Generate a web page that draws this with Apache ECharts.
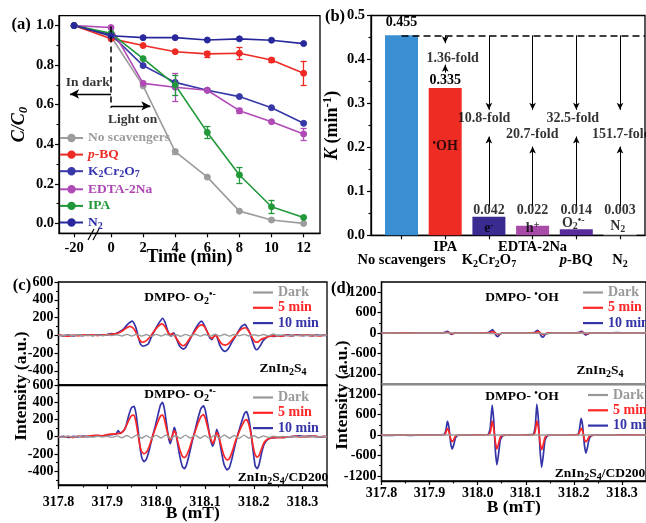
<!DOCTYPE html>
<html><head><meta charset="utf-8">
<script src="https://cdn.jsdelivr.net/npm/echarts@6/dist/echarts.min.js"></script>
<style>html,body{margin:0;padding:0;background:#fff}#c{width:646px;height:523px}</style>
</head><body><div id="c"></div>
<script>
// ---------------- DATA ----------------
// Panel (a): C/C0 vs time
const timeMin = [-20, 0, 2, 4, 6, 8, 10, 12];
const aNoScav = [1.0, 0.945, 0.695, 0.363, 0.234, 0.062, 0.017, 0.0];
const aPBQ    = [1.0, 0.934, 0.899, 0.868, 0.857, 0.860, 0.826, 0.759];
const aK2Cr   = [1.0, 0.955, 0.798, 0.713, 0.673, 0.641, 0.585, 0.506];
const aEDTA   = [1.0, 0.990, 0.708, 0.688, 0.673, 0.570, 0.514, 0.452];
const aIPA    = [1.0, 0.961, 0.833, 0.700, 0.460, 0.245, 0.084, 0.030];
const aN2     = [1.0, 0.949, 0.939, 0.939, 0.927, 0.933, 0.926, 0.909];
const aErrNoScav = [0, 0, 0, 0.012, 0, 0, 0, 0];
const aErrPBQ    = [0, 0, 0, 0, 0.015, 0.030, 0.010, 0.063];
const aErrK2Cr   = [0, 0, 0, 0, 0, 0, 0, 0];
const aErrEDTA   = [0, 0, 0, 0.070, 0, 0.012, 0, 0.030];
const aErrIPA    = [0, 0, 0, 0.050, 0.030, 0.040, 0.035, 0];
const aErrN2     = [0, 0, 0, 0, 0, 0, 0, 0];
const aXTicks = [-20, 0, 2, 4, 6, 8, 10, 12];
const aYTicks = [0, 0.2, 0.4, 0.6, 0.8, 1.0];
const aYMinor = [0.1, 0.3, 0.5, 0.7, 0.9];

// Panel (b): rate constants
const bCategories = ['No scavengers', 'IPA', 'K2Cr2O7', 'EDTA-2Na', 'p-BQ', 'N2'];
const bK = [0.455, 0.335, 0.042, 0.022, 0.014, 0.003];
const bFold = ['', '1.36', '10.8', '20.7', '32.5', '151.7'];
const bSpecies = ['', 'OH', 'e', 'h', 'O2', 'N2'];

// Panel (c): DMPO-O2- EPR, [B (mT), intensity]
const cTopDark = [[317.80,0],[317.81,-5],[317.82,4],[317.83,-3],[317.84,5],[317.85,-4],[317.86,3],[317.87,-5],[317.88,4],[317.89,-6],[317.90,5],[317.91,-4],[317.92,6],[317.93,-8],[317.94,10],[317.95,-8],[317.96,12],[317.97,-10],[317.98,8],[317.99,-12],[318.00,10],[318.01,-8],[318.02,12],[318.03,-10],[318.04,8],[318.05,-12],[318.06,10],[318.07,-8],[318.08,12],[318.09,-10],[318.10,8],[318.11,-12],[318.12,10],[318.13,-8],[318.14,12],[318.15,-10],[318.16,8],[318.17,-6],[318.18,10],[318.19,-8],[318.20,6],[318.21,-5],[318.22,8],[318.23,-4],[318.24,15],[318.25,-6],[318.26,4],[318.27,-5],[318.28,3],[318.29,-4],[318.30,5],[318.31,-3],[318.32,4],[318.33,-5],[318.34,3],[318.35,0]];
const cTop5 = [[317.800,5],[317.810,-4],[317.820,-10],[317.830,2],[317.840,-6],[317.850,4],[317.860,-2],[317.870,6],[317.880,-4],[317.890,3],[317.900,5],[317.910,12],[317.920,20],[317.930,45],[317.938,80],[317.946,100],[317.952,85],[317.958,40],[317.963,-20],[317.968,-65],[317.973,-78],[317.980,-60],[317.987,-20],[317.995,40],[318.003,95],[318.012,128],[318.018,100],[318.023,45],[318.028,5],[318.033,20],[318.037,5],[318.042,-40],[318.049,-95],[318.055,-118],[318.061,-100],[318.067,-50],[318.074,0],[318.081,60],[318.088,105],[318.094,118],[318.099,95],[318.104,45],[318.110,-15],[318.115,-35],[318.119,-10],[318.123,0],[318.128,-45],[318.134,-95],[318.141,-110],[318.148,-95],[318.155,-55],[318.162,-10],[318.170,45],[318.177,75],[318.183,85],[318.188,60],[318.193,15],[318.198,-40],[318.203,-75],[318.208,-78],[318.214,-50],[318.220,-35],[318.228,-20],[318.235,-10],[318.245,-5],[318.255,-12],[318.265,2],[318.275,-6],[318.285,4],[318.295,-3],[318.305,6],[318.315,-4],[318.325,0],[318.335,-8],[318.345,3],[318.350,0]];
const cTop10 = [[317.800,2],[317.810,-6],[317.820,4],[317.830,-8],[317.840,3],[317.850,-4],[317.860,6],[317.870,-3],[317.880,5],[317.890,2],[317.900,8],[317.908,20],[317.915,15],[317.925,40],[317.933,70],[317.942,125],[317.951,160],[317.956,120],[317.960,60],[317.964,-30],[317.968,-100],[317.972,-122],[317.978,-115],[317.984,-95],[317.991,-10],[317.998,65],[318.006,140],[318.013,192],[318.018,150],[318.022,80],[318.027,5],[318.031,-10],[318.035,28],[318.038,10],[318.042,-45],[318.048,-120],[318.055,-155],[318.060,-140],[318.066,-80],[318.073,-5],[318.080,70],[318.087,130],[318.093,160],[318.098,120],[318.103,60],[318.109,-20],[318.114,-50],[318.118,-15],[318.122,10],[318.126,-40],[318.131,-120],[318.137,-170],[318.142,-182],[318.148,-150],[318.155,-80],[318.161,-25],[318.168,40],[318.175,100],[318.182,122],[318.187,80],[318.192,25],[318.198,-80],[318.203,-150],[318.207,-163],[318.213,-120],[318.219,-62],[318.226,-25],[318.233,-8],[318.240,-12],[318.250,0],[318.260,-6],[318.270,4],[318.280,-5],[318.290,6],[318.300,-3],[318.310,2],[318.320,-6],[318.330,3],[318.340,-2],[318.350,0]];
const cBotDark = [[317.80,0],[317.81,-6],[317.82,5],[317.83,-4],[317.84,6],[317.85,-5],[317.86,4],[317.87,-6],[317.88,5],[317.89,-4],[317.90,6],[317.91,-8],[317.92,10],[317.93,-12],[317.94,15],[317.95,-15],[317.96,20],[317.97,-18],[317.98,15],[317.99,-20],[318.00,18],[318.01,-15],[318.02,20],[318.03,-18],[318.04,15],[318.05,-20],[318.06,18],[318.07,-15],[318.08,20],[318.09,-18],[318.10,15],[318.11,-20],[318.12,18],[318.13,-15],[318.14,20],[318.15,-18],[318.16,15],[318.17,-20],[318.18,18],[318.19,-15],[318.20,12],[318.21,-15],[318.22,10],[318.23,-8],[318.24,6],[318.25,-5],[318.26,4],[318.27,-6],[318.28,5],[318.29,-4],[318.30,6],[318.31,-3],[318.32,4],[318.33,-5],[318.34,3],[318.35,0]];
const cBot5 = [[317.800,0],[317.810,-6],[317.820,5],[317.830,-10],[317.840,8],[317.850,-3],[317.860,6],[317.870,12],[317.880,15],[317.890,10],[317.900,25],[317.910,30],[317.920,35],[317.928,40],[317.936,90],[317.943,180],[317.949,240],[317.954,250],[317.958,190],[317.962,60],[317.966,-80],[317.970,-170],[317.975,-198],[317.980,-180],[317.986,-110],[317.992,-10],[317.998,90],[318.004,180],[318.009,240],[318.013,250],[318.017,200],[318.021,100],[318.025,10],[318.029,-40],[318.033,10],[318.037,70],[318.040,40],[318.044,-50],[318.049,-160],[318.054,-230],[318.058,-242],[318.062,-220],[318.068,-140],[318.074,-30],[318.080,60],[318.086,160],[318.092,235],[318.097,258],[318.101,210],[318.106,100],[318.111,-10],[318.116,-80],[318.120,-30],[318.124,50],[318.128,10],[318.133,-100],[318.139,-220],[318.145,-270],[318.150,-255],[318.156,-170],[318.162,-60],[318.168,30],[318.175,120],[318.181,185],[318.185,200],[318.189,160],[318.194,40],[318.199,-120],[318.203,-210],[318.207,-238],[318.211,-215],[318.216,-140],[318.221,-70],[318.228,-30],[318.235,-15],[318.245,-8],[318.255,-12],[318.265,-5],[318.275,0],[318.285,6],[318.295,-2],[318.305,4],[318.315,0],[318.325,8],[318.335,-2],[318.345,3],[318.350,0]];
const cBot10 = [[317.800,-5],[317.810,3],[317.820,-8],[317.830,5],[317.840,-3],[317.850,8],[317.860,0],[317.870,10],[317.880,12],[317.890,8],[317.900,20],[317.910,25],[317.918,30],[317.922,70],[317.926,45],[317.932,60],[317.938,120],[317.944,250],[317.950,340],[317.955,352],[317.959,260],[317.963,80],[317.967,-120],[317.971,-250],[317.975,-290],[317.980,-260],[317.986,-150],[317.992,-10],[317.998,120],[318.004,260],[318.009,370],[318.013,398],[318.017,320],[318.021,160],[318.025,0],[318.029,-80],[318.033,0],[318.037,110],[318.040,60],[318.044,-80],[318.049,-240],[318.054,-350],[318.058,-370],[318.062,-330],[318.068,-200],[318.074,-50],[318.080,80],[318.086,220],[318.092,330],[318.097,358],[318.101,300],[318.106,140],[318.111,-30],[318.116,-110],[318.120,-40],[318.124,85],[318.128,20],[318.133,-150],[318.139,-320],[318.145,-385],[318.150,-360],[318.156,-240],[318.162,-90],[318.168,40],[318.175,170],[318.181,270],[318.185,290],[318.189,230],[318.194,60],[318.199,-180],[318.203,-340],[318.207,-370],[318.211,-320],[318.216,-190],[318.221,-90],[318.228,-35],[318.235,-15],[318.245,-10],[318.255,-5],[318.265,-8],[318.275,0],[318.285,5],[318.295,10],[318.305,0],[318.315,8],[318.325,5],[318.335,-3],[318.345,2],[318.350,0]];

// Panel (d): DMPO-OH EPR
const dTopDark = [[317.80,0],[317.85,-3],[317.90,2],[317.95,-2],[318.00,3],[318.03,-15],[318.045,-20],[318.06,0],[318.10,2],[318.13,-15],[318.145,-20],[318.16,0],[318.20,2],[318.25,-2],[318.30,3],[318.35,0]];
const dTop5 = [[317.80,5],[317.82,-3],[317.84,6],[317.86,-2],[317.88,4],[317.90,-5],[317.92,3],[317.932,5],[317.936,20],[317.939,22],[317.943,-5],[317.947,-20],[317.952,-5],[317.97,3],[317.99,-4],[318.01,5],[318.025,8],[318.030,35],[318.033,40],[318.037,0],[318.041,-40],[318.045,-35],[318.050,-5],[318.07,4],[318.09,-3],[318.11,6],[318.120,8],[318.124,35],[318.127,38],[318.131,-10],[318.135,-45],[318.139,-30],[318.145,0],[318.17,4],[318.19,-3],[318.21,5],[318.215,18],[318.219,20],[318.223,-10],[318.227,-25],[318.232,-5],[318.25,3],[318.27,-4],[318.29,5],[318.31,-2],[318.33,4],[318.35,0]];
const dTop10 = [[317.80,0],[317.82,5],[317.84,-5],[317.86,8],[317.88,-3],[317.90,5],[317.92,-4],[317.930,10],[317.935,45],[317.938,50],[317.942,-10],[317.946,-40],[317.950,-15],[317.956,0],[317.97,-5],[317.99,5],[318.01,0],[318.022,15],[318.028,70],[318.031,100],[318.035,20],[318.039,-90],[318.042,-105],[318.046,-40],[318.052,0],[318.07,5],[318.09,-5],[318.11,5],[318.118,10],[318.122,60],[318.125,80],[318.129,0],[318.133,-110],[318.136,-120],[318.140,-50],[318.146,-5],[318.16,5],[318.18,-3],[318.20,5],[318.210,10],[318.214,40],[318.217,45],[318.221,-20],[318.225,-60],[318.229,-30],[318.235,0],[318.25,5],[318.27,-3],[318.29,10],[318.31,0],[318.33,5],[318.35,0]];
const dBotDark = [[317.80,0],[317.85,2],[317.90,-2],[317.95,2],[318.00,-2],[318.05,2],[318.10,-2],[318.15,2],[318.20,-2],[318.25,2],[318.30,-2],[318.35,0]];
const dBot5 = [[317.80,5],[317.82,-5],[317.84,8],[317.86,-3],[317.88,5],[317.90,-6],[317.92,4],[317.931,10],[317.934,80],[317.937,200],[317.940,120],[317.942,0],[317.944,-120],[317.947,-195],[317.950,-140],[317.954,-30],[317.958,-5],[317.97,6],[317.99,-4],[318.01,5],[318.023,15],[318.027,120],[318.030,410],[318.033,230],[318.035,0],[318.037,-230],[318.040,-410],[318.043,-280],[318.047,-60],[318.052,-10],[318.07,4],[318.09,-5],[318.11,6],[318.117,15],[318.120,140],[318.123,420],[318.126,240],[318.128,0],[318.130,-240],[318.133,-430],[318.136,-300],[318.140,-70],[318.145,-10],[318.16,4],[318.18,-6],[318.20,5],[318.209,10],[318.212,90],[318.215,200],[318.218,130],[318.220,0],[318.222,-130],[318.225,-200],[318.228,-150],[318.232,-40],[318.237,-8],[318.25,6],[318.27,-4],[318.29,5],[318.31,-2],[318.33,4],[318.35,0]];
const dBot10 = [[317.80,0],[317.82,-10],[317.84,5],[317.86,-8],[317.88,6],[317.90,-4],[317.92,8],[317.930,15],[317.934,150],[317.937,400],[317.940,250],[317.942,0],[317.944,-250],[317.947,-410],[317.950,-300],[317.954,-80],[317.958,-10],[317.97,5],[317.99,-5],[318.01,8],[318.022,20],[318.026,200],[318.030,878],[318.033,500],[318.035,0],[318.037,-500],[318.040,-878],[318.043,-600],[318.047,-150],[318.052,-20],[318.07,5],[318.09,-6],[318.11,10],[318.116,25],[318.120,300],[318.123,908],[318.126,500],[318.128,0],[318.130,-500],[318.133,-947],[318.136,-650],[318.140,-150],[318.145,-20],[318.16,5],[318.18,-5],[318.20,8],[318.209,20],[318.212,200],[318.215,488],[318.218,300],[318.220,0],[318.222,-300],[318.225,-527],[318.228,-380],[318.232,-100],[318.237,-15],[318.25,5],[318.27,-6],[318.29,8],[318.31,-3],[318.33,6],[318.35,0]];
const eprXTicks = [317.8, 317.9, 318.0, 318.1, 318.2, 318.3];
const eprXMinor = [317.85, 317.95, 318.05, 318.15, 318.25, 318.35];
const cYTicks = [-400, -200, 0, 200, 400, 600];
const cYMinor = [-500, -300, -100, 100, 300, 500];
const dYTicks = [-1200, -600, 0, 600, 1200];
const dYMinor = [-900, -300, 300, 900];

// ---------------- STYLE / LAYOUT ----------------
const F = 'Liberation Serif';
const BREAK_POS = -2.3;               // display position of t = -20 (axis break)
const tpos = t => (t < 0 ? BREAK_POS : t);
const CAP = 0.19;                     // half-width of error-bar caps (x units)

function rich(size, color, lh) {
  lh = lh || size + 4;
  const base = {fontFamily: F, fontWeight: 'bold', fontSize: size, color: color, lineHeight: lh};
  const small = {fontFamily: F, fontWeight: 'bold', fontSize: Math.round(size * 0.72), color: color};
  return {
    b: Object.assign({}, base),
    i: Object.assign({}, base, {fontStyle: 'italic'}),
    sub: Object.assign({}, small, {verticalAlign: 'bottom'}),
    isub: Object.assign({}, small, {verticalAlign: 'bottom', fontStyle: 'italic'}),
    sup: Object.assign({}, small, {verticalAlign: 'top'})
  };
}
function zrich(size, color) {
  const base = {fontFamily: F, fontWeight: 'bold', fontSize: size, fill: color, lineHeight: size + 4};
  const small = {fontFamily: F, fontWeight: 'bold', fontSize: Math.round(size * 0.72), fill: color};
  return {
    b: base,
    i: Object.assign({}, base, {fontStyle: 'italic'}),
    sub: Object.assign({}, small, {verticalAlign: 'bottom'}),
    sup: Object.assign({}, small, {verticalAlign: 'top'})
  };
}
const RICHLABEL = {
  'No scavengers': '{b|No scavengers}',
  'IPA': '{b|IPA}',
  'K2Cr2O7': '{b|K}{sub|2}{b|Cr}{sub|2}{b|O}{sub|7}',
  'EDTA-2Na': '{b|EDTA-2Na}',
  'p-BQ': '{i|p}{b|-BQ}',
  'N2': '{b|N}{sub|2}'
};
const SPECIES = {'': '', 'OH': '{sup|•}{b|OH}', 'e': '{b|e}{sup|-}', 'h': '{b|h}{sup|+}', 'O2': '{b|O}{sub|2}{sup|•-}', 'N2': '{b|N}{sub|2}'};

const BLACK = '#000';
const AXL = {show: true, onZero: false, lineStyle: {color: BLACK, width: 1.3}};
const LBL = {fontFamily: F, fontWeight: 'bold', fontSize: 14, color: BLACK};
const GRID = {show: true, borderColor: BLACK, borderWidth: 1.3, backgroundColor: 'rgba(0,0,0,0)'};

// ---- panel (a) series defs
const aDefs = [
  {name: 'No scavengers', v: aNoScav, e: aErrNoScav, color: '#9c9c9c', txt: '#9c9c9c'},
  {name: 'p-BQ', v: aPBQ, e: aErrPBQ, color: '#ee2a24', txt: '#ee2a24'},
  {name: 'K2Cr2O7', v: aK2Cr, e: aErrK2Cr, color: '#3838a8', txt: '#3636ae'},
  {name: 'EDTA-2Na', v: aEDTA, e: aErrEDTA, color: '#b04ab6', txt: '#ae46b4'},
  {name: 'IPA', v: aIPA, e: aErrIPA, color: '#21983a', txt: '#24983a'},
  {name: 'N2', v: aN2, e: aErrN2, color: '#28289c', txt: '#2c2caa'}
];

const series = [];
aDefs.forEach(function (d) {
  // error bars as mark lines (vertical bar + two caps) from the value/error arrays
  const eb = [];
  timeMin.forEach((t, i) => {
    if (d.e[i] > 0) {
      const x = tpos(t), lo = d.v[i] - d.e[i], hi = d.v[i] + d.e[i];
      eb.push([{coord: [x, lo]}, {coord: [x, hi]}]);
      eb.push([{coord: [x - CAP, lo]}, {coord: [x + CAP, lo]}]);
      eb.push([{coord: [x - CAP, hi]}, {coord: [x + CAP, hi]}]);
    }
  });
  series.push({
    type: 'line', name: d.name, xAxisIndex: 0, yAxisIndex: 0,
    data: timeMin.map((t, i) => [tpos(t), d.v[i]]),
    symbol: 'circle', symbolSize: 6,
    lineStyle: {width: 1.6, color: d.color},
    itemStyle: {color: d.color, borderColor: d.color, borderWidth: 1},
    z: 3,
    markLine: eb.length ? {silent: true, animation: false, symbol: 'none', label: {show: false},
      lineStyle: {color: d.color, width: 1.3, type: 'solid'}, data: eb} : undefined
  });
});
// dashed "light on" line and arrows in (a)
series.push({
  type: 'line', name: '_annA', xAxisIndex: 0, yAxisIndex: 0, data: [], silent: true,
  markLine: {
    silent: true, animation: false, label: {show: false}, symbolSize: [7, 9],
    lineStyle: {color: BLACK, width: 1.4, type: 'solid'},
    data: [
      [{coord: [0, 0.995], symbol: 'none', lineStyle: {type: [6, 4], width: 1.5, color: BLACK}}, {coord: [0, 0.585], symbol: 'none'}],
      [{coord: [0, 0.654], symbol: 'none'}, {coord: [-2.55, 0.654], symbol: 'arrow'}],
      [{coord: [0, 0.594], symbol: 'none'}, {coord: [2.45, 0.594], symbol: 'arrow'}]
    ]
  }
});
series.push({
  type: 'scatter', name: '_txtA', xAxisIndex: 0, yAxisIndex: 0, symbolSize: 1, silent: true,
  itemStyle: {color: 'rgba(0,0,0,0)'},
  label: {show: true, position: 'inside', fontFamily: F, fontWeight: 'bold', fontSize: 13.5, color: BLACK},
  data: [
    {value: [-1.45, 0.71], label: {formatter: 'In dark'}},
    {value: [1.35, 0.527], label: {formatter: 'Light on'}}
  ]
});

// ---- panel (b)
const BAR_COLORS = ['#3a8fd3', '#ee2c24', '#3a2b90', '#a84ba8', '#5a2c9b', '#cfcfcf'];
const dashEnd = 6.572;
const ml = [[{coord: [1, bK[0]], symbol: 'none', lineStyle: {type: [7, 4], width: 1.5, color: BLACK}}, {coord: [dashEnd, bK[0]], symbol: 'none'}]];
// IPA arrows
ml.push([{coord: [2, bK[0]], symbol: 'none'}, {coord: [2, 0.437], symbol: 'arrow'}]);
ml.push([{coord: [2, 0.370], symbol: 'none'}, {coord: [2, 0.388], symbol: 'arrow'}]);
const upEnd = [0, 0, 0.2246, 0.2018, 0.2246, 0.2018];
for (let i = 2; i < 6; i++) {
  ml.push([{coord: [i + 1, bK[0]], symbol: 'none'}, {coord: [i + 1, 0.2854], symbol: 'arrow'}]);
  ml.push([{coord: [i + 1, 0.0667], symbol: 'none'}, {coord: [i + 1, upEnd[i]], symbol: 'arrow'}]);
}
series.push({
  type: 'bar', name: 'K', xAxisIndex: 1, yAxisIndex: 1, barWidth: 33,
  data: bK.map((v, i) => ({
    value: [i + 1, v], itemStyle: {color: BAR_COLORS[i]},
    label: {show: v >= 0.1, position: 'top', distance: i === 0 ? 6 : 1, formatter: v.toFixed(3),
      fontFamily: F, fontWeight: 'bold', fontSize: 14, color: BLACK}
  })),
  markLine: {silent: true, animation: false, label: {show: false}, symbolSize: [5, 7],
    lineStyle: {color: BLACK, width: 1, type: 'solid'}, data: ml},
  z: 2
});
const smallLabelY = 0.0576;
const foldPos = [null, [2.17, 0.402], [2.89, 0.2665], [3.99, 0.2285], [4.92, 0.2665], [6.04, 0.2285]];
const speciesPos = [null, [2, 0.202], [3, 0.016], [4, 0.016], [4.93, 0.027], [5.95, 0.02]];
const bTxt = [];
bK.forEach((v, i) => {
  if (v < 0.1) bTxt.push({value: [i + 1, smallLabelY], label: {formatter: '{b|' + v.toFixed(3) + '}'}});
  if (bFold[i]) bTxt.push({value: foldPos[i], label: {formatter: '{b|' + bFold[i] + '-fold}'}});
  if (bSpecies[i]) bTxt.push({value: speciesPos[i], label: {formatter: SPECIES[bSpecies[i]]}});
});
series.push({
  type: 'scatter', name: '_txtB', xAxisIndex: 1, yAxisIndex: 1, symbolSize: 1, silent: true,
  itemStyle: {color: 'rgba(0,0,0,0)'}, z: 5,
  label: {show: true, position: 'inside', rich: rich(14, BLACK, 16)},
  data: bTxt
});

// ---- panels (c),(d)
const EPR_COL = {'Dark': '#999999', '5 min': '#ff2626', '10 min': '#3434a8'};
function epr(name, data, xi, yi) {
  return {type: 'line', name: name, xAxisIndex: xi, yAxisIndex: yi, data: data, symbol: 'none',
    smooth: 0.15, lineStyle: {width: name === 'Dark' ? 1.4 : 1.7, color: EPR_COL[name]},
    itemStyle: {color: EPR_COL[name]}, silent: true, z: 2};
}
series.push(epr('10 min', cTop10, 2, 2), epr('5 min', cTop5, 2, 2), epr('Dark', cTopDark, 2, 2));
series.push(epr('10 min', cBot10, 3, 3), epr('5 min', cBot5, 3, 3), epr('Dark', cBotDark, 3, 3));
series.push(epr('10 min', dTop10, 4, 4), epr('5 min', dTop5, 4, 4), epr('Dark', dTopDark, 4, 4));
series.push(epr('10 min', dBot10, 5, 5), epr('5 min', dBot5, 5, 5), epr('Dark', dBotDark, 5, 5));

// ---------------- AXES ----------------
function minorAxis(kind, grid, min, max, vals, pos) {
  return {type: 'value', gridIndex: grid, min: min, max: max, position: pos,
    axisLine: {show: false, onZero: false}, axisLabel: {show: false}, splitLine: {show: false},
    axisTick: {show: true, length: 2.5, customValues: vals, lineStyle: {color: BLACK, width: 1.1}}};
}
const aXPos = aXTicks.map(tpos);
const NAMEFONT = {fontFamily: F, fontWeight: 'bold', fontSize: 18, color: BLACK};
const bLabelFmt = v => RICHLABEL[bCategories[Math.round(v) - 1]];
const bUpper = [2, 4], bLower = [1, 3, 5, 6];
const xAxis = [
  {type: 'value', gridIndex: 0, min: -3.24, max: 13.02, axisLine: AXL, splitLine: {show: false},
    axisTick: {show: true, length: 4, customValues: aXPos, lineStyle: {color: BLACK, width: 1.2}},
    axisLabel: Object.assign({}, LBL, {fontSize: 14.5, margin: 7, customValues: aXPos,
      showMinLabel: true, showMaxLabel: true,
      formatter: v => { const k = aXPos.indexOf(v); return k >= 0 ? String(aXTicks[k]) : ''; }}),
    name: 'Time (min)', nameLocation: 'middle', nameGap: 15, nameMoveOverlap: false,
    nameTextStyle: NAMEFONT},
  {type: 'value', gridIndex: 1, min: 0.302, max: 6.572, axisLine: AXL, splitLine: {show: false},
    axisTick: {show: true, length: 4, customValues: [1, 2, 3, 4, 5, 6], lineStyle: {color: BLACK, width: 1.2}},
    axisLabel: {customValues: bUpper, margin: 3, fontSize: 14.5, showMinLabel: true, showMaxLabel: true,
      fontFamily: F, fontWeight: 'bold', color: BLACK, rich: rich(14.5, BLACK, 18), formatter: bLabelFmt}},
  {type: 'value', gridIndex: 2, min: 317.8, max: 318.35, axisLine: AXL, splitLine: {show: false},
    axisTick: {show: false}, axisLabel: {show: false}},
  {type: 'value', gridIndex: 3, min: 317.8, max: 318.35, axisLine: AXL, splitLine: {show: false},
    axisTick: {show: true, length: 4, customValues: eprXTicks, lineStyle: {color: BLACK, width: 1.2}},
    axisLabel: Object.assign({}, LBL, {customValues: eprXTicks, margin: 10, showMinLabel: true, formatter: v => v.toFixed(1)}),
    name: 'B (mT)', nameLocation: 'middle', nameGap: 19, nameMoveOverlap: false,
    nameTextStyle: Object.assign({}, NAMEFONT, {fontSize: 17.5})},
  {type: 'value', gridIndex: 4, min: 317.8, max: 318.35, axisLine: AXL, splitLine: {show: false},
    axisTick: {show: false}, axisLabel: {show: false}},
  {type: 'value', gridIndex: 5, min: 317.8, max: 318.35, axisLine: AXL, splitLine: {show: false},
    axisTick: {show: true, length: 4, customValues: eprXTicks, lineStyle: {color: BLACK, width: 1.2}},
    axisLabel: Object.assign({}, LBL, {customValues: eprXTicks, margin: 5, showMinLabel: true, formatter: v => v.toFixed(1)}),
    name: 'B (mT)', nameLocation: 'middle', nameGap: 17, nameMoveOverlap: false,
    nameTextStyle: Object.assign({}, NAMEFONT, {fontSize: 17.5})},
  minorAxis('x', 3, 317.8, 318.35, eprXMinor, 'bottom'),
  minorAxis('x', 5, 317.8, 318.35, eprXMinor, 'bottom'),
  // lower row of category labels for (b)
  {type: 'value', gridIndex: 1, min: 0.302, max: 6.572, position: 'bottom',
    axisLine: {show: false, onZero: false}, axisTick: {show: false}, splitLine: {show: false},
    axisLabel: {customValues: bLower, margin: 16, fontSize: 14.5, showMinLabel: true, showMaxLabel: true,
      fontFamily: F, fontWeight: 'bold', color: BLACK, rich: rich(14.5, BLACK, 18), formatter: bLabelFmt}}
];
function eprY(grid, min, max, ticks) {
  return {type: 'value', gridIndex: grid, min: min, max: max, axisLine: AXL, splitLine: {show: false},
    axisTick: {show: true, length: 4, customValues: ticks, lineStyle: {color: BLACK, width: 1.2}},
    axisLabel: Object.assign({}, LBL, {customValues: ticks, margin: 5, showMinLabel: true, showMaxLabel: true, formatter: v => String(v)})};
}
const yAxis = [
  {type: 'value', gridIndex: 0, min: -0.05, max: 1.05, axisLine: AXL, splitLine: {show: false},
    axisTick: {show: true, length: 4, customValues: aYTicks, lineStyle: {color: BLACK, width: 1.2}},
    axisLabel: Object.assign({}, LBL, {fontSize: 14.5, margin: 5, customValues: aYTicks, formatter: v => v.toFixed(1)}),
    name: '{i|C/C}{isub|0}', nameLocation: 'middle', nameGap: 29, nameMoveOverlap: false,
    nameTextStyle: {rich: rich(18, BLACK, 22)}},
  {type: 'value', gridIndex: 1, min: 0, max: 0.5, interval: 0.1, axisLine: AXL, splitLine: {show: false},
    axisTick: {show: true, length: 4, lineStyle: {color: BLACK, width: 1.2}},
    minorTick: {show: true, splitNumber: 2, length: 2.5, lineStyle: {color: BLACK, width: 1.1}},
    axisLabel: Object.assign({}, LBL, {fontSize: 14.5, margin: 6, formatter: v => v.toFixed(1)}),
    name: '{i|K}{b| (min}{sup|-1}{b|)}', nameLocation: 'middle', nameGap: 28, nameMoveOverlap: false,
    nameTextStyle: {rich: rich(18, BLACK, 22)}},
  eprY(2, -560, 600, cYTicks),
  eprY(3, -560, 600, cYTicks),
  eprY(4, -1500, 1500, dYTicks),
  eprY(5, -1350, 1500, dYTicks),
  minorAxis('y', 0, -0.05, 1.05, aYMinor, 'left'),
  minorAxis('y', 2, -560, 600, cYMinor, 'left'),
  minorAxis('y', 3, -560, 600, cYMinor, 'left'),
  minorAxis('y', 4, -1500, 1500, dYMinor, 'left'),
  minorAxis('y', 5, -1350, 1500, dYMinor, 'left')
];

// ---------------- LEGENDS ----------------
const legA = {
  orient: 'vertical', left: 59, top: 131, padding: 0, itemWidth: 23, itemHeight: 8, itemGap: 2.6,
  selectedMode: false,
  data: aDefs.map(d => ({name: d.name, textStyle: {color: d.txt, rich: rich(13.5, d.txt, 17)}})),
  formatter: name => RICHLABEL[name],
  textStyle: {fontFamily: F, fontWeight: 'bold', fontSize: 13.5}
};
function eprLegend(left, top) {
  return {orient: 'vertical', left: left, top: top, padding: 0, itemWidth: 20, itemHeight: 2.2, itemGap: 1.3,
    selectedMode: false, icon: 'rect',
    data: ['Dark', '5 min', '10 min'].map(n => ({name: n, icon: 'rect', itemStyle: {color: EPR_COL[n]}, textStyle: {color: EPR_COL[n]}})),
    textStyle: {fontFamily: F, fontWeight: 'bold', fontSize: 14, lineHeight: 14}};
}

// ---------------- GRAPHIC TEXT ----------------
function gText(x, y, text, size, color, rot) {
  return {type: 'text', x: x, y: y, rotation: rot || 0, z: 50, silent: true,
    style: {text: text, rich: zrich(size, color), align: 'center', verticalAlign: 'middle',
      fill: color, fontFamily: F, fontWeight: 'bold', fontSize: size}};
}
const graphic = [
  gText(21, 25, '{b|(a)}', 16.5, BLACK),
  gText(335, 17, '{b|(b)}', 16.5, BLACK),
  gText(22, 286, '{b|(c)}', 16.5, BLACK),
  gText(341, 289, '{b|(d)}', 16.5, BLACK),
  gText(180, 298, '{b|DMPO- O}{sub|2}{sup|•-}', 13.5, BLACK),
  gText(180, 395, '{b|DMPO- O}{sub|2}{sup|•-}', 13.5, BLACK),
  gText(283, 369, '{b|ZnIn}{sub|2}{b|S}{sub|4}', 13.5, BLACK),
  gText(283, 478, '{b|ZnIn}{sub|2}{b|S}{sub|4}{b|/CD200}', 13.5, BLACK),
  gText(522, 298, '{b|DMPO- }{sup|•}{b|OH}', 13.5, BLACK),
  gText(522, 397, '{b|DMPO- }{sup|•}{b|OH}', 13.5, BLACK),
  gText(600, 371, '{b|ZnIn}{sub|2}{b|S}{sub|4}', 13.5, BLACK),
  gText(600, 474, '{b|ZnIn}{sub|2}{b|S}{sub|4}{b|/CD200}', 13.5, BLACK),
  gText(21, 386, '{b|Intensity (a.u.)}', 17.5, BLACK, Math.PI / 2),
  gText(342, 395, '{b|Intensity (a.u.)}', 17.5, BLACK, Math.PI / 2),
  // axis break marks on (a)
  {type: 'line', z: 50, silent: true, shape: {x1: 88, y1: 240, x2: 94, y2: 229}, style: {stroke: BLACK, lineWidth: 1.2}},
  {type: 'line', z: 50, silent: true, shape: {x1: 93, y1: 240, x2: 99, y2: 229}, style: {stroke: BLACK, lineWidth: 1.2}},
  // grey divider in (d)
  {type: 'line', z: 40, silent: true, shape: {x1: 381.5, y1: 384, x2: 646, y2: 384}, style: {stroke: '#8a8a8a', lineWidth: 2}}
];

const option = {
  animation: false,
  backgroundColor: '#fff',
  grid: [
    Object.assign({left: 59, top: 15.7, width: 261, height: 217.6}, GRID),
    Object.assign({left: 371, top: 15.5, width: 274, height: 219.8}, GRID),
    Object.assign({left: 58.5, top: 282, width: 268.5, height: 103}, GRID),
    Object.assign({left: 58.5, top: 385, width: 268.5, height: 103}, GRID),
    Object.assign({left: 381.5, top: 282, width: 269.5, height: 102}, GRID),
    Object.assign({left: 381.5, top: 384, width: 269.5, height: 97}, GRID)
  ],
  xAxis: xAxis,
  yAxis: yAxis,
  legend: [legA, eprLegend(253, 285.5), eprLegend(253, 390.5), eprLegend(583, 285.5), eprLegend(588, 388)],
  graphic: graphic,
  series: series
};
const chart = echarts.init(document.getElementById('c'), null, {renderer: 'canvas', width: 646, height: 523});
chart.setOption(option);
</script></body></html>
